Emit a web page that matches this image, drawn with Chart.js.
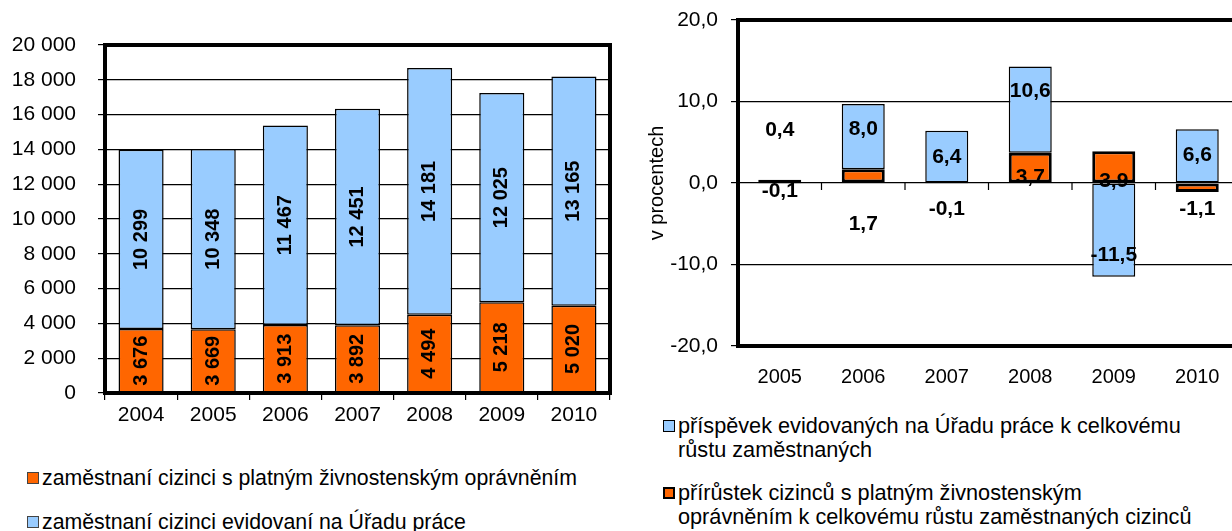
<!DOCTYPE html>
<html><head><meta charset="utf-8">
<script src="https://cdn.jsdelivr.net/npm/chart.js@4/dist/chart.umd.min.js"></script>
<style>
html,body{margin:0;padding:0;width:1232px;height:531px;overflow:hidden;background:#fff;font-family:"Liberation Sans",Arial,sans-serif;}
#c1{position:absolute;left:0;top:0;}
#c2{position:absolute;left:620px;top:0;}
.lg{position:absolute;color:#000;line-height:24px;white-space:nowrap;}
.bx{position:absolute;box-sizing:border-box;}
</style></head><body>
<canvas id="c1" width="640" height="440"></canvas>
<canvas id="c2" width="700" height="410"></canvas>

<div class="bx" style="left:27px;top:472px;width:12px;height:12px;background:#FF6600;border:1px solid #444;"></div>
<div class="lg" style="left:42px;top:466px;font-size:21.3px">zaměstnaní cizinci s platným živnostenským oprávněním</div>
<div class="bx" style="left:27px;top:516px;width:12px;height:12px;background:#99CCFF;border:1px solid #444;"></div>
<div class="lg" style="left:42px;top:510px;font-size:21.3px">zaměstnaní cizinci evidovaní na Úřadu práce</div>

<div class="bx" style="left:663px;top:420px;width:12px;height:12px;background:#99CCFF;border:1.5px solid #000;"></div>
<div class="lg" style="left:678px;top:414px;font-size:21.7px">příspěvek evidovaných na Úřadu práce k celkovému<br>růstu zaměstnaných</div>
<div class="bx" style="left:663px;top:487px;width:12px;height:12px;background:#FF6600;border:2.5px solid #000;"></div>
<div class="lg" style="left:678px;top:481px;font-size:21.7px">přírůstek cizinců s platným živnostenským<br>oprávněním k celkovému růstu zaměstnaných cizinců</div>

<script>
// ---- data: left chart ----
const years1 = ['2004','2005','2006','2007','2008','2009','2010'];
const zivnostenske = [3676,3669,3913,3892,4494,5218,5020];
const uradPrace = [10299,10348,11467,12451,14181,12025,13165];
// ---- data: right chart ----
const years2 = ['2005','2006','2007','2008','2009','2010'];
const prispevekUrad = [0.4,8.0,6.4,10.6,-11.5,6.6];
const prirustekZivno = [-0.1,1.7,-0.1,3.7,3.9,-1.1];

const ORANGE='#FF6600', BLUE='#99CCFF';
const FONT='"Liberation Sans", Arial, sans-serif';
const fmtThousands = v => String(v).replace(/\B(?=(\d{3})+(?!\d))/g,' ');
const fmtPct = v => Number(v).toFixed(1).replace('.',',');

const framePlugin = {
  id:'frame',
  afterDatasetsDraw(chart, args, opts){
    const {ctx, chartArea:a} = chart;
    ctx.save();
    ctx.strokeStyle='#000';
    if (opts.zeroTicks){
      const ys=chart.scales.y;
      const n=chart.data.labels.length, w=(a.right-a.left)/n;
      const y0=ys.getPixelForValue(0);
      ctx.lineWidth=1.2;
      ctx.beginPath();
      for(let i=0;i<=n;i++){const x=a.left+i*w; ctx.moveTo(x,y0); ctx.lineTo(x,y0+7);}
      ctx.stroke();
    }
    ctx.lineWidth=opts.width||4;
    ctx.strokeRect(a.left,a.top,a.right-a.left,a.bottom-a.top);
    ctx.restore();
  }
};
const labelPlugin = {
  id:'vlabels',
  afterDatasetsDraw(chart, args, opts){
    const ctx=chart.ctx;
    ctx.save();
    ctx.font=opts.font; ctx.fillStyle='#000';
    ctx.textAlign='center'; ctx.textBaseline='middle';
    chart.data.datasets.forEach((ds,di)=>{
      const meta=chart.getDatasetMeta(di);
      meta.data.forEach((bar,i)=>{
        const v=ds.data[i];
        const y = opts.anchors ? chart.scales.y.getPixelForValue(opts.anchors[di][i]) : (bar.y+bar.base)/2;
        ctx.save(); ctx.translate(bar.x,y);
        if(opts.rotate) ctx.rotate(-Math.PI/2);
        ctx.fillText(opts.format(v),0,0);
        ctx.restore();
      });
    });
    ctx.restore();
  }
};

new Chart(document.getElementById('c1'),{
  type:'bar',
  data:{labels:years1,datasets:[
    {label:'zaměstnaní cizinci s platným živnostenským oprávněním',data:zivnostenske,backgroundColor:ORANGE,borderColor:'#000',borderWidth:1.5,borderSkipped:false},
    {label:'zaměstnaní cizinci evidovaní na Úřadu práce',data:uradPrace,backgroundColor:BLUE,borderColor:'#000',borderWidth:1.5,borderSkipped:false}
  ]},
  plugins:[framePlugin,labelPlugin],
  options:{
    responsive:false,animation:false,devicePixelRatio:1,
    layout:{padding:{left:0,top:45,right:30,bottom:12}},
    datasets:{bar:{barPercentage:0.625,categoryPercentage:1}},
    plugins:{legend:{display:false},tooltip:{enabled:false},
      frame:{width:4},
      vlabels:{font:'bold 20px '+FONT,rotate:true,format:fmtThousands}},
    scales:{
      x:{stacked:true,
        afterFit(s){s.height=35;},
        border:{display:false},
        grid:{offset:true,drawOnChartArea:false,drawTicks:true,tickLength:7,color:'#000',lineWidth:1.2},
        ticks:{color:'#000',font:{family:FONT,size:21},padding:3,maxRotation:0}},
      y:{stacked:true,min:0,max:20000,
        afterFit(s){s.width=105;s.paddingTop=0;s.paddingBottom=0;},
        border:{display:false},
        grid:{color:'#000',lineWidth:1.2,tickLength:7},
        ticks:{stepSize:2000,color:'#000',font:{family:FONT,size:21},padding:22,callback:v=>fmtThousands(v)}}
    }
  }
});

new Chart(document.getElementById('c2'),{
  type:'bar',
  data:{labels:years2,datasets:[
    {label:'přírůstek cizinců s platným živnostenským oprávněním k celkovému růstu zaměstnaných cizinců',data:prirustekZivno,backgroundColor:ORANGE,borderColor:'#000',borderWidth:3,borderSkipped:false},
    {label:'příspěvek evidovaných na Úřadu práce k celkovému růstu zaměstnaných',data:prispevekUrad,backgroundColor:BLUE,borderColor:'#000',borderWidth:1.5,borderSkipped:false}
  ]},
  plugins:[framePlugin,labelPlugin],
  options:{
    responsive:false,animation:false,devicePixelRatio:1,
    layout:{padding:{left:0,top:20,right:81,bottom:4}},
    datasets:{bar:{barPercentage:0.515,categoryPercentage:1}},
    plugins:{legend:{display:false},tooltip:{enabled:false},
      frame:{width:4,zeroTicks:true},
      vlabels:{font:'bold 21px '+FONT,rotate:false,format:fmtPct,
        anchors:[[-1.0,-5.0,-3.2,0.7,0.2,-3.2],[6.5,6.6,3.2,11.3,-8.8,3.4]]}},
    scales:{
      x:{stacked:true,
        afterFit(s){s.height=60;},
        border:{display:false},
        grid:{display:false},
        ticks:{color:'#000',font:{family:FONT,size:20},padding:11,maxRotation:0}},
      y:{stacked:true,min:-20,max:20,
        afterFit(s){s.width=118;s.paddingTop=0;s.paddingBottom=0;},
        border:{display:false},
        grid:{color:'#000',lineWidth:1.2,tickLength:7},
        title:{display:true,text:'v procentech',color:'#000',font:{family:FONT,size:20},padding:{top:25,bottom:0}},
        ticks:{stepSize:10,color:'#000',font:{family:FONT,size:21},padding:13,callback:v=>fmtPct(v)}}
    }
  }
});
</script>
</body></html>
